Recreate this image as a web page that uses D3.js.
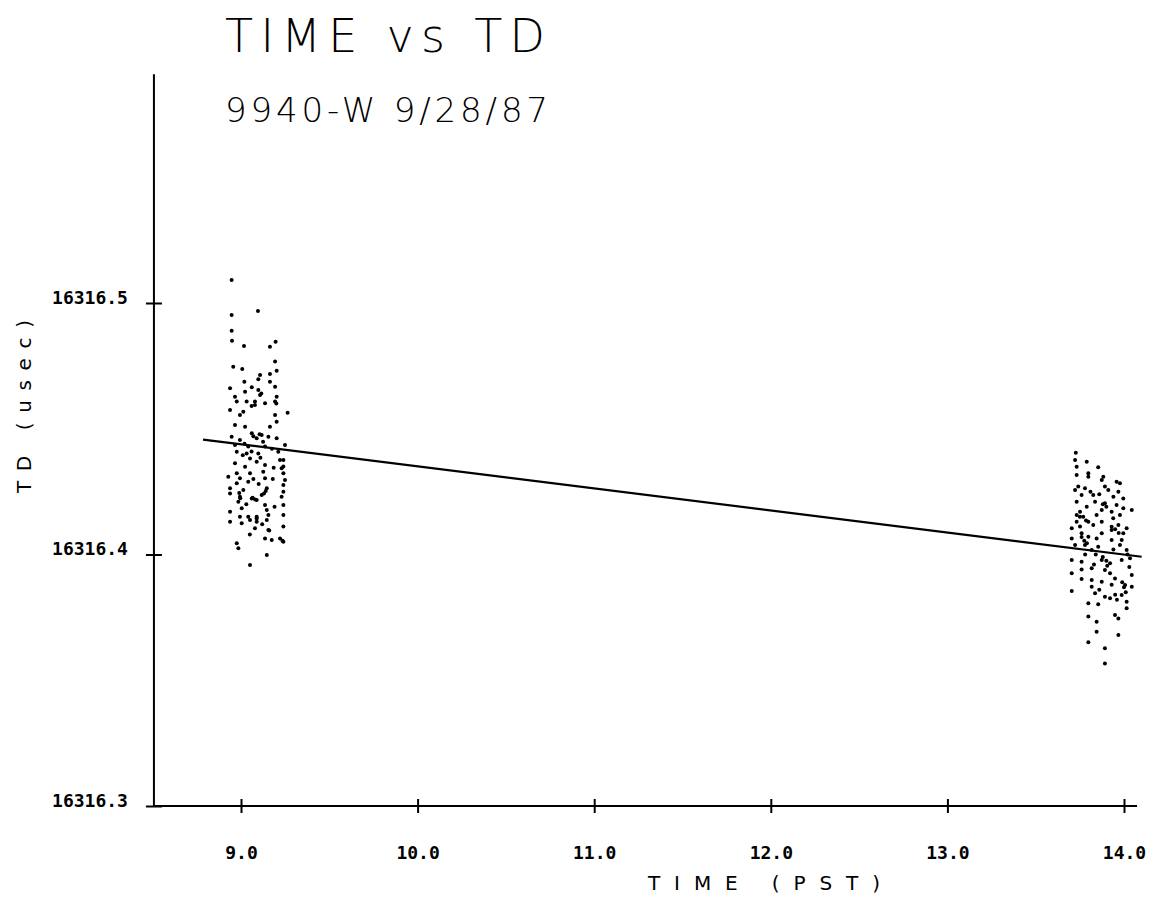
<!DOCTYPE html>
<html>
<head>
<meta charset="utf-8">
<script src="https://cdn.jsdelivr.net/npm/d3@7"></script>
<style>
  body { margin: 0; background: #fff; }
  svg { display: block; }
</style>
</head>
<body>
<div id="chart"></div>
<script>

// time (hours PST) and TD (usec)
var clusterA = [
  [8.947,16316.5091],[9.096,16316.4968],[8.947,16316.4952],[8.947,16316.4890],[8.949,16316.4850],
  [9.017,16316.4829],[9.164,16316.4826],[9.196,16316.4846],[9.193,16316.4767],[9.202,16316.4731],
  [8.956,16316.4747],[9.007,16316.4738],[9.164,16316.4718],[9.108,16316.4714],[9.098,16316.4697],
  [9.019,16316.4687],[9.164,16316.4687],[8.938,16316.4661],[9.061,16316.4665],[9.193,16316.4667],
  [9.023,16316.4647],[9.098,16316.4654],[9.108,16316.4634],[8.966,16316.4627],[9.202,16316.4627],
  [8.976,16316.4608],[9.079,16316.4608],[9.032,16316.4608],[9.136,16316.4601],[9.193,16316.4608],
  [9.079,16316.4594],[8.938,16316.4575],[9.013,16316.4568],[8.994,16316.4555],[9.193,16316.4555],
  [9.264,16316.4564],[8.966,16316.4515],[9.023,16316.4508],[9.164,16316.4508],[9.202,16316.4528],
  [9.061,16316.4482],[9.117,16316.4475],[9.155,16316.4468],[8.947,16316.4468],[9.202,16316.4462],
  [8.994,16316.4455],[9.089,16316.4462],[8.966,16316.4435],[9.041,16316.4429],[9.136,16316.4429],
  [9.249,16316.4435],[8.976,16316.4409],[9.032,16316.4402],[9.098,16316.4402],[9.211,16316.4409],
  [9.051,16316.4382],[9.089,16316.4369],[9.221,16316.4376],[8.966,16316.4363],[9.136,16316.4356],
  [9.023,16316.4349],[9.230,16316.4343],[8.976,16316.4323],[9.051,16316.4323],[9.126,16316.4329],
  [9.240,16316.4323],[8.994,16316.4303],[9.136,16316.4303],[9.249,16316.4296],[8.928,16316.4309],
  [8.976,16316.4283],[9.041,16316.4289],[9.240,16316.4276],[8.938,16316.4263],[9.013,16316.4256],
  [9.146,16316.4263],[9.240,16316.4250],[8.938,16316.4243],[8.994,16316.4230],[9.117,16316.4237],
  [9.061,16316.4223],[9.230,16316.4230],[8.985,16316.4210],[9.089,16316.4217],[9.136,16316.4197],
  [9.240,16316.4197],[9.004,16316.4184],[8.938,16316.4170],[9.146,16316.4177],[9.155,16316.4157],
  [9.041,16316.4150],[9.089,16316.4150],[8.994,16316.4150],[9.240,16316.4157],[8.938,16316.4130],
  [9.051,16316.4137],[9.089,16316.4130],[9.146,16316.4137],[9.004,16316.4124],[9.079,16316.4104],
  [9.240,16316.4111],[9.155,16316.4097],[9.136,16316.4064],[9.174,16316.4058],[9.221,16316.4064],
  [9.240,16316.4051],[8.976,16316.4045],[8.985,16316.4025],[9.146,16316.3998],[9.051,16316.3958],
  // overlapping dots in the dense blobs
  [9.240,16316.4376],[9.240,16316.4350],[9.130,16316.4243],[9.140,16316.4252],[9.066,16316.4226],
  [9.080,16316.4219],[8.990,16316.4245],[8.996,16316.4224],[9.089,16316.4143],[9.160,16316.4095],
  [9.235,16316.4055],[9.070,16316.4470],[9.105,16316.4478],[9.125,16316.4448],[9.020,16316.4440],
  [9.060,16316.4410],[9.175,16316.4420],[9.110,16316.4385],[9.010,16316.4395],[9.185,16316.4345],
  [9.070,16316.4300],[9.100,16316.4280],[9.180,16316.4300],[9.030,16316.4200],[9.190,16316.4190],
  [9.115,16316.4640],[9.200,16316.4600],[9.060,16316.4590],[9.050,16316.4080],[9.120,16316.4120]
];

var clusterB = [
  [13.727,16316.4405],[13.723,16316.4376],[13.789,16316.4369],[13.732,16316.4349],[13.854,16316.4347],
  [13.732,16316.4316],[13.798,16316.4323],[13.798,16316.4309],[13.883,16316.4309],[13.874,16316.4296],
  [13.958,16316.4289],[13.977,16316.4283],[13.741,16316.4270],[13.723,16316.4256],[13.779,16316.4263],
  [13.892,16316.4270],[13.911,16316.4256],[13.968,16316.4250],[13.760,16316.4237],[13.826,16316.4237],
  [13.996,16316.4223],[13.732,16316.4210],[13.836,16316.4210],[13.892,16316.4204],[13.958,16316.4197],
  [13.789,16316.4190],[13.996,16316.4184],[13.751,16316.4170],[13.874,16316.4177],[13.930,16316.4170],
  [14.044,16316.4177],[13.732,16316.4157],[13.769,16316.4150],[13.845,16316.4157],[13.939,16316.4144],
  [13.977,16316.4157],[13.732,16316.4130],[13.798,16316.4130],[13.874,16316.4130],[13.751,16316.4111],
  [13.704,16316.4104],[13.826,16316.4117],[13.968,16316.4117],[14.015,16316.4104],[13.930,16316.4097],
  [13.760,16316.4084],[13.798,16316.4071],[13.874,16316.4084],[13.996,16316.4084],[13.704,16316.4064],
  [13.845,16316.4064],[13.930,16316.4058],[13.987,16316.4058],[13.723,16316.4038],[13.779,16316.4038],
  [13.854,16316.4031],[13.977,16316.4038],[14.015,16316.4018],[13.817,16316.4018],[13.704,16316.3978],
  [13.760,16316.3971],[13.874,16316.3978],[13.921,16316.3965],[13.987,16316.3978],[14.034,16316.3985],
  [13.817,16316.3945],[13.892,16316.3938],[13.921,16316.3925],[14.044,16316.3918],[13.704,16316.3925],
  [13.760,16316.3903],[13.817,16316.3899],[13.949,16316.3905],[13.874,16316.3892],[14.006,16316.3879],
  [13.817,16316.3872],[14.044,16316.3872],[13.704,16316.3855],[13.836,16316.3846],[13.892,16316.3832],
  [13.921,16316.3826],[13.987,16316.3839],[14.015,16316.3812],[13.798,16316.3806],[13.854,16316.3802],
  [14.015,16316.3786],[13.949,16316.3759],[13.798,16316.3753],[13.968,16316.3746],[13.845,16316.3733],
  [13.845,16316.3693],[13.968,16316.3680],[13.798,16316.3651],[13.892,16316.3627],[13.892,16316.3567],
  // overlapping dots in the dense blobs
  [13.880,16316.4200],[13.900,16316.4190],[13.750,16316.4150],[13.785,16316.4135],[13.760,16316.4070],
  [13.775,16316.4055],[13.790,16316.4045],[13.930,16316.4110],[13.950,16316.4100],[13.970,16316.4085],
  [13.880,16316.3990],[13.900,16316.3975],[13.905,16316.3955],[13.990,16316.3890],[14.000,16316.3870],
  [14.010,16316.3850],[13.950,16316.3840],[13.960,16316.3820],[13.840,16316.4000],[13.780,16316.4000],
  [13.940,16316.4020],[14.020,16316.4000],[13.810,16316.4250],[13.860,16316.4240],[13.940,16316.4230],
  [13.830,16316.3960],[13.760,16316.3940],[14.030,16316.3950],[13.930,16316.3880],[13.860,16316.3860]
];

// fitted line end points
var fitLine = [[8.785,16316.4457],[14.100,16316.3991]];

var xTicks = [9, 10, 11, 12, 13, 14];
var yTicks = [16316.3, 16316.4, 16316.5];
var xExtent = [8.507, 14.074];
var yExtent = [16316.3, 16316.591];

var titleText = "TIME vs TD";
var subtitleText = "9940-W  9/28/87";
var xTitle = "TIME  (PST)";
var yTitle = "TD  (usec)";


var width = 1158, height = 917;

var svg = d3.select("#chart").append("svg")
    .attr("width", width)
    .attr("height", height);

var x = d3.scaleLinear()
    .domain([9, 14])
    .range([241, 1124]);

var y = d3.scaleLinear()
    .domain([16316.3, 16316.5])
    .range([806, 303]);

var labelFont = "'DejaVu Sans Mono', monospace";
var plotFont = "'DejaVu Sans', sans-serif";

// axes
var xAxis = d3.axisBottom(x)
    .tickValues(xTicks)
    .tickSize(7)
    .tickFormat(d3.format(".1f"));

var yAxis = d3.axisLeft(y)
    .tickValues(yTicks)
    .tickSize(8)
    .tickFormat(d3.format(".1f"));

var gx = svg.append("g")
    .attr("class", "x-axis axis")
    .attr("transform", "translate(0," + y(yExtent[0]) + ")")
    .call(xAxis);

gx.select(".domain").remove();
gx.selectAll(".tick line")
    .attr("y1", -7)
    .attr("y2", 7)
    .attr("stroke", "#000")
    .attr("stroke-width", 2);
gx.selectAll(".tick text")
    .attr("y", 53)
    .attr("dy", 0)
    .style("font-family", labelFont)
    .style("font-weight", "bold")
    .style("font-size", "18px")
    .attr("fill", "#000");

var gy = svg.append("g")
    .attr("class", "y-axis axis")
    .attr("transform", "translate(" + x(xExtent[0]) + ",0)")
    .call(yAxis);

gy.select(".domain").remove();
gy.selectAll(".tick line")
    .attr("x1", -8)
    .attr("x2", 8)
    .attr("stroke", "#000")
    .attr("stroke-width", 2);
gy.selectAll(".tick text")
    .attr("x", -26)
    .attr("dy", 0)
    .style("font-family", labelFont)
    .style("font-weight", "bold")
    .style("font-size", "18px")
    .attr("fill", "#000");

// axis lines
svg.append("line")
    .attr("x1", x(xExtent[0])).attr("x2", x(xExtent[1]))
    .attr("y1", y(yExtent[0])).attr("y2", y(yExtent[0]))
    .attr("stroke", "#000")
    .attr("stroke-width", 2);

svg.append("line")
    .attr("x1", x(xExtent[0])).attr("x2", x(xExtent[0]))
    .attr("y1", y(yExtent[0])).attr("y2", y(yExtent[1]))
    .attr("stroke", "#000")
    .attr("stroke-width", 2);

// scatter
var allPoints = clusterA.concat(clusterB);

svg.selectAll("circle.pt")
    .data(allPoints)
    .enter()
    .append("circle")
    .attr("class", "pt")
    .attr("cx", d => x(d[0]))
    .attr("cy", d => y(d[1]))
    .attr("r", 2)
    .attr("fill", "#000");

// fit line
svg.append("path")
    .datum(fitLine)
    .attr("fill", "none")
    .attr("stroke", "#000")
    .attr("stroke-width", 2.2)
    .attr("d", d3.line().x(d => x(d[0])).y(d => y(d[1])));

// titles
svg.append("text")
    .attr("x", 225)
    .attr("y", 52)
    .attr("textLength", 320)
    .attr("lengthAdjust", "spacing")
    .style("font-family", plotFont)
    .style("font-weight", 200)
    .style("font-size", "46px")
    .text(titleText);

svg.append("text")
    .attr("x", 225)
    .attr("y", 122)
    .attr("textLength", 323)
    .attr("lengthAdjust", "spacing")
    .style("font-family", plotFont)
    .style("font-weight", 200)
    .style("font-size", "34px")
    .text(subtitleText);

svg.append("text")
    .attr("x", 648)
    .attr("y", 890)
    .attr("textLength", 232)
    .attr("lengthAdjust", "spacing")
    .style("font-family", plotFont)
    .style("font-size", "20px")
    .text(xTitle);

svg.append("text")
    .attr("transform", "translate(31,493) rotate(-90)")
    .attr("textLength", 173)
    .attr("lengthAdjust", "spacing")
    .style("font-family", plotFont)
    .style("font-size", "20px")
    .text(yTitle);

</script>
</body>
</html>
